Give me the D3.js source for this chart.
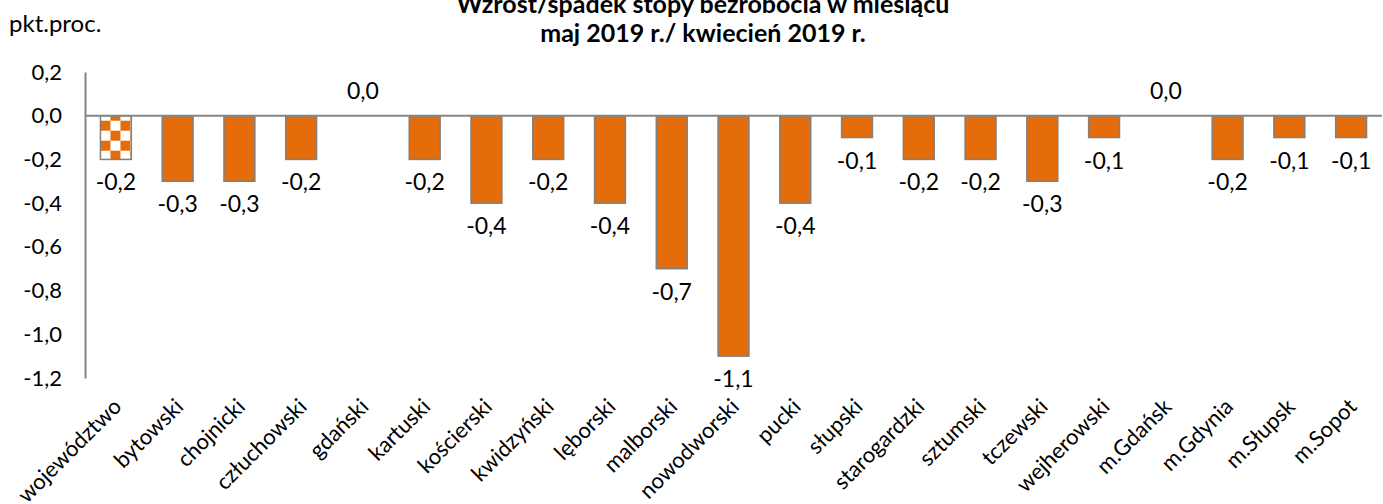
<!DOCTYPE html>
<html>
<head>
<meta charset="utf-8">
<script src="https://cdn.jsdelivr.net/npm/d3@7"></script>
<style>
  body { margin: 0; background: #fff; }
  text { font-family: Lato, "Open Sans", sans-serif; fill: #000; }
</style>
</head>
<body>
<div id="chart"></div>
<script>
// powiaty + województwo
var categories = ["województwo", "bytowski", "chojnicki", "człuchowski", "gdański", "kartuski",
    "kościerski", "kwidzyński", "lęborski", "malborski", "nowodworski", "pucki", "słupski",
    "starogardzki", "sztumski", "tczewski", "wejherowski", "m.Gdańsk", "m.Gdynia", "m.Słupsk", "m.Sopot"];
// zmiana stopy bezrobocia, pkt.proc.
var values = [-0.2, -0.3, -0.3, -0.2, 0.0, -0.2, -0.4, -0.2, -0.4, -0.7, -1.1, -0.4, -0.1,
    -0.2, -0.2, -0.3, -0.1, 0.0, -0.2, -0.1, -0.1];
var yTicks = [0.2, 0.0, -0.2, -0.4, -0.6, -0.8, -1.0, -1.2];
var titleLines = ["Wzrost/spadek stopy bezrobocia w miesiącu", "maj 2019 r./ kwiecień 2019 r."];
var unitLabel = "pkt.proc.";

var width = 1383, height = 504;
var margin = {top: 72, right: 1, bottom: 126, left: 85};

var fmt = function(v) { return d3.format(".1f")(v).replace(".", ",").replace("−", "-"); };

var svg = d3.select("#chart").append("svg")
    .attr("width", width)
    .attr("height", height);

var x = d3.scaleBand()
    .domain(categories)
    .range([margin.left, width - margin.right])
    .paddingInner(0.5)
    .paddingOuter(0.25);

var y = d3.scaleLinear()
    .domain([-1.2, 0.2])
    .range([height - margin.bottom, margin.top]);

// checker pattern for the województwo bar
var defs = svg.append("defs");
var pat = defs.append("pattern")
    .attr("id", "checker")
    .attr("patternUnits", "userSpaceOnUse")
    .attr("width", 20).attr("height", 20)
    .attr("x", x(categories[0])).attr("y", y(0) - 5);
pat.append("rect").attr("width", 20).attr("height", 20).attr("fill", "#fff");
pat.append("rect").attr("x", 10).attr("y", 0).attr("width", 10).attr("height", 10).attr("fill", "#E46C0A");
pat.append("rect").attr("x", 0).attr("y", 10).attr("width", 10).attr("height", 10).attr("fill", "#E46C0A");

// title (top line is cut by the edge, like in the original)
svg.append("text")
    .attr("x", 703)
    .attr("y", 13)
    .attr("text-anchor", "middle")
    .style("font-weight", "bold")
    .style("font-size", "25px")
    .selectAll("tspan")
    .data(titleLines)
    .enter().append("tspan")
        .attr("x", 703)
        .attr("dy", function(d, i) { return i ? 29 : 0; })
        .text(function(d) { return d; });

svg.append("text")
    .attr("x", 9)
    .attr("y", 32)
    .style("font-size", "24px")
    .text(unitLabel);

// y axis
var yAxis = d3.axisLeft(y)
    .tickValues(yTicks)
    .tickSize(0)
    .tickPadding(23)
    .tickFormat(fmt);

var gy = svg.append("g")
    .attr("transform", "translate(" + margin.left + ",0)")
    .call(yAxis);
gy.select(".domain").attr("stroke", "#868686").attr("stroke-width", 2);
gy.selectAll("text").style("font-size", "22px").style("font-family", "Lato, sans-serif");

// bars
svg.append("g").selectAll("rect")
    .data(values)
    .enter().append("rect")
        .attr("x", function(d, i) { return x(categories[i]); })
        .attr("y", function(d) { return y(Math.max(0, d)); })
        .attr("width", x.bandwidth())
        .attr("height", function(d) { return Math.abs(y(d) - y(0)); })
        .attr("fill", function(d, i) { return i === 0 ? "url(#checker)" : "#E46C0A"; })
        .attr("stroke", function(d) { return d === 0 ? "none" : "#808080"; })
        .attr("stroke-width", 1.5);

// zero line
svg.append("line")
    .attr("x1", margin.left).attr("x2", width - margin.right)
    .attr("y1", y(0)).attr("y2", y(0))
    .attr("stroke", "#868686")
    .attr("stroke-width", 2);

// value labels
svg.append("g").selectAll("text")
    .data(values)
    .enter().append("text")
        .attr("x", function(d, i) { return x(categories[i]) + x.bandwidth() / 2; })
        .attr("y", function(d) { return d < 0 ? y(d) + 31 : y(0) - 17; })
        .attr("text-anchor", "middle")
        .style("font-size", "23px")
        .text(function(d) { return fmt(d); });

// category labels
svg.append("g").selectAll("text")
    .data(categories)
    .enter().append("text")
        .attr("text-anchor", "end")
        .attr("transform", function(d) {
            return "translate(" + (x(d) + x.bandwidth() / 2 + 7) + "," + 408 + ") rotate(-45)";
        })
        .style("font-size", "22px")
        .text(function(d) { return d; });
</script>
</body>
</html>
